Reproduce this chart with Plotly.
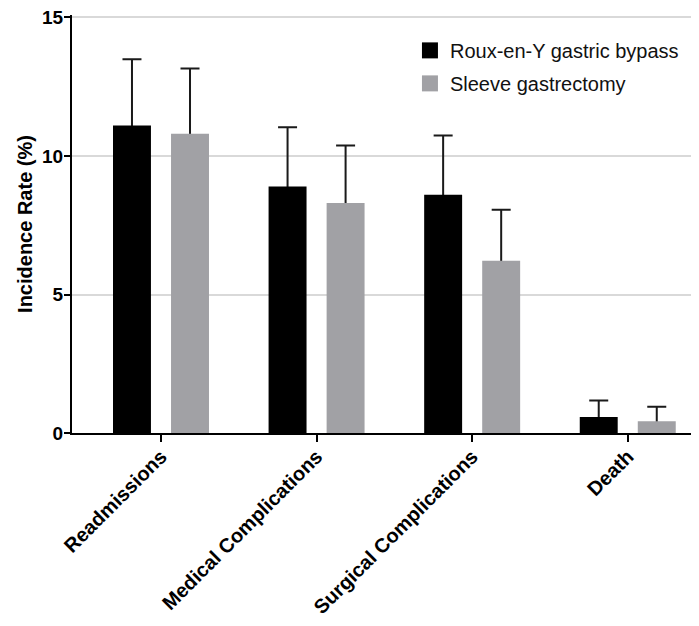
import plotly.graph_objects as go

categories = ["Readmissions", "Medical Complications", "Surgical Complications", "Death"]
rygb_values = [11.1, 8.9, 8.6, 0.58]
rygb_err = [2.39, 2.14, 2.14, 0.59]
sg_values = [10.8, 8.3, 6.22, 0.42]
sg_err = [2.36, 2.08, 1.84, 0.53]
series_names = ["Roux-en-Y gastric bypass", "Sleeve gastrectomy"]
y_ticks = [0, 5, 10, 15]

BLACK = "#000000"
GRAY = "#a1a1a5"
FONT = "Arial, Liberation Sans, sans-serif"

fig = go.Figure()
series = [(series_names[0], rygb_values, rygb_err, BLACK, "a"),
          (series_names[1], sg_values, sg_err, GRAY, "b")]
for name, vals, errs, col, og in series:
    # error-bar carrier (drawn first, so the opaque bar hides the lower part)
    fig.add_trace(go.Bar(
        x=categories, y=vals, name=name, offsetgroup=og,
        marker=dict(color="rgba(0,0,0,0)", line=dict(width=0)),
        error_y=dict(type="data", array=errs, arrayminus=vals, symmetric=False,
                     color="#1a1a1a", thickness=2, width=9.5),
        showlegend=False, hoverinfo="skip",
    ))
    fig.add_trace(go.Bar(
        x=categories, y=vals, name=name, offsetgroup=og,
        marker=dict(color=col, line=dict(width=0)),
        showlegend=False,
    ))
# legend entries with larger square swatches
for i, (name, col) in enumerate([(series_names[0], BLACK), (series_names[1], GRAY)]):
    fig.add_trace(go.Scatter(
        x=[None], y=[None], mode="markers", name=name, legendgroup=f"g{i}",
        marker=dict(symbol="square", size=20, color=col),
    ))

fig.update_layout(
    width=691, height=618,
    margin=dict(l=64, r=0, t=7, b=193, autoexpand=False),
    paper_bgcolor="white", plot_bgcolor="white",
    barmode="group", bargap=0.254, bargroupgap=0.346,
    font=dict(family=FONT, color="#000000"),
    legend=dict(x=0.539, y=0.962, xanchor="left", yanchor="top",
                font=dict(family=FONT, size=20, color="#111111"),
                tracegroupgap=4, bgcolor="rgba(0,0,0,0)"),
    xaxis=dict(
        range=[-0.572, 3.458], showline=True, linecolor="black", linewidth=2,
        ticks="outside", ticklen=7, tickwidth=2, tickcolor="black",
        tickangle=-45, showgrid=False, automargin=False,
        ticklabelstandoff=-5,
        tickfont=dict(family=FONT, size=20, weight="bold", color="black"),
    ),
    yaxis=dict(
        range=[0, 15.09], tickvals=y_ticks, showline=True, linecolor="black", linewidth=2,
        ticks="outside", ticklen=6, tickwidth=2, tickcolor="black",
        ticklabelstandoff=-3, ticklabeloverflow="allow", automargin=False,
        showgrid=True, gridcolor="#d9d9d9", gridwidth=1.5, zeroline=False,
        tickfont=dict(family=FONT, size=19, weight="bold", color="black"),
        title=dict(text="Incidence Rate (%)", standoff=4,
                   font=dict(family=FONT, size=20, weight="bold", color="black")),
    ),
)

fig.write_html("out.html")
